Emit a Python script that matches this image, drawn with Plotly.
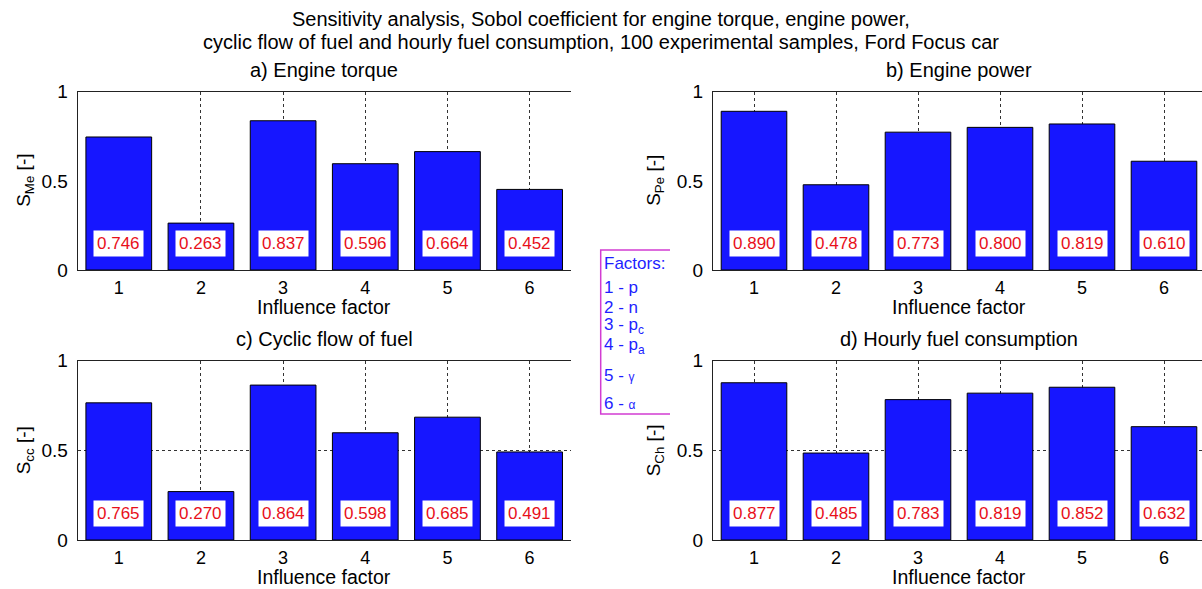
import plotly.graph_objects as go

# ---------------- data ----------------
factors = [1, 2, 3, 4, 5, 6]
torque = [0.746, 0.263, 0.837, 0.596, 0.664, 0.452]
power = [0.890, 0.478, 0.773, 0.800, 0.819, 0.610]
cyclic = [0.765, 0.270, 0.864, 0.598, 0.685, 0.491]
hourly = [0.877, 0.485, 0.783, 0.819, 0.852, 0.632]

panel_titles = ["a) Engine torque", "b) Engine power",
                "c) Cyclic flow of fuel", "d) Hourly fuel consumption"]
y_titles = ["S<sub>Me</sub> [-]", "S<sub>Pe</sub> [-]",
            "S<sub>cc</sub> [-]", "S<sub>Ch</sub> [-]"]
x_title = "Influence factor"
y_tickvals = [0, 0.5, 1]
y_ticktext = ["0", "0.5", "1"]
legend_lines = ["Factors:", "1 - p", "2 - n", "3 - p<sub>c</sub>",
                "4 - p<sub>a</sub>", "5 - <span style='font-size:12px'>γ</span>",
                "6 - <span style='font-size:12px'>α</span>"]
title_line1 = "Sensitivity analysis, Sobol coefficient for engine torque, engine power,"
title_line2 = "cyclic flow of fuel and hourly fuel consumption, 100 experimental samples, Ford Focus car"

# ---------------- layout helpers ----------------
W, H = 1202, 589
FONT = "Arial, 'Liberation Sans', sans-serif"
BAR_COLOR = "rgb(22,22,255)"
GRID = "#333333"


def px(p):
    return p / W


def py(p):
    return 1 - p / H


left_dom = [px(77.7), px(570.7)]
right_dom = [px(713), 1.0]
top_dom = [py(270), py(91.7)]
bot_dom = [py(540), py(360.7)]

panels = [
    dict(vals=torque, xd=left_dom, yd=top_dom, left=True, hgrid=False),
    dict(vals=power, xd=right_dom, yd=top_dom, left=False, hgrid=False),
    dict(vals=cyclic, xd=left_dom, yd=bot_dom, left=True, hgrid=True),
    dict(vals=hourly, xd=right_dom, yd=bot_dom, left=False, hgrid=True),
]

fig = go.Figure()
annotations = []
layout = {}

for i, p in enumerate(panels):
    n = "" if i == 0 else str(i + 1)
    xa, ya = "x" + n, "y" + n
    fig.add_trace(go.Bar(
        x=factors, y=p["vals"], xaxis=xa, yaxis=ya, width=0.8,
        marker=dict(color=BAR_COLOR, line=dict(color="black", width=1)),
        showlegend=False, hoverinfo="x+y"))

    xr = [0.5, 6.5] if p["left"] else [0.5, 6.5 - 3 / 82.0]
    xaxis = dict(
        domain=p["xd"], anchor=ya, range=xr, tickvals=factors,
        ticktext=[str(f) for f in factors], ticks="", showline=True,
        linecolor="#222222", linewidth=1, mirror=True, zeroline=False,
        tickfont=dict(family=FONT, size=18, color="black"),
        ticklabelstandoff=1, fixedrange=True, automargin=False,
    )
    if p["left"]:
        xaxis.update(showgrid=False,
                     minor=dict(tickvals=factors[1:], showgrid=True, gridcolor=GRID,
                                griddash="dot", gridwidth=1, ticks=""))
    else:
        xaxis.update(showgrid=True, gridcolor=GRID, griddash="dot", gridwidth=1)
    yaxis = dict(
        domain=p["yd"], anchor=xa, range=[0, 1], tickvals=y_tickvals,
        ticktext=y_ticktext, ticks="", showline=True, linecolor="#222222",
        linewidth=1, mirror=False, zeroline=False, showgrid=p["hgrid"],
        gridcolor=GRID, griddash="dot", gridwidth=1,
        tickfont=dict(family=FONT, size=19, color="black"),
        ticklabelstandoff=5, fixedrange=True, automargin=False,
    )
    layout["xaxis" + n] = xaxis
    layout["yaxis" + n] = yaxis

    # value labels
    for f, v in zip(factors, p["vals"]):
        annotations.append(dict(
            x=f, y=0.15, xref=xa, yref=ya, text=f"{v:.3f}", showarrow=False,
            font=dict(family=FONT, size=17, color="#e8101a"), bgcolor="white",
            borderpad=3, xanchor="center", yanchor="middle"))

    # panel title
    cx = (p["xd"][0] + p["xd"][1]) / 2 if p["left"] else px(959)
    ty = py(70) if i < 2 else py(339)
    annotations.append(dict(
        x=cx, y=ty, xref="paper", yref="paper", text=panel_titles[i],
        showarrow=False, font=dict(family=FONT, size=20, color="black"),
        xanchor="center", yanchor="middle"))

    # y title
    yx = px(25) if p["left"] else px(655)
    ymid = (p["yd"][0] + p["yd"][1]) / 2
    annotations.append(dict(
        x=yx, y=ymid, xref="paper", yref="paper", text=y_titles[i],
        showarrow=False, textangle=-90,
        font=dict(family=FONT, size=19, color="black"),
        xanchor="center", yanchor="middle"))

    # x title
    xty = py(307) if i < 2 else py(577)
    annotations.append(dict(
        x=cx, y=xty, xref="paper", yref="paper", text=x_title,
        showarrow=False, font=dict(family=FONT, size=19.5, color="black"),
        xanchor="center", yanchor="middle"))

# main title
annotations.append(dict(x=0.5, y=py(19), xref="paper", yref="paper",
                        text=title_line1, showarrow=False,
                        font=dict(family=FONT, size=20, color="black"),
                        xanchor="center", yanchor="middle"))
annotations.append(dict(x=0.5, y=py(42), xref="paper", yref="paper",
                        text=title_line2, showarrow=False,
                        font=dict(family=FONT, size=20, color="black"),
                        xanchor="center", yanchor="middle"))

# factors legend box
legend_y = [263, 288, 307, 326, 346, 375, 403]
for t, yy in zip(legend_lines, legend_y):
    annotations.append(dict(x=px(602), y=py(yy), xref="paper", yref="paper",
                            text=t, showarrow=False, align="left",
                            font=dict(family=FONT, size=17, color="rgb(30,30,255)"),
                            xanchor="left", yanchor="middle"))

shapes = [dict(type="path", xref="paper", yref="paper",
               path=f"M {px(670)},{py(250)} L {px(600.7)},{py(250)} "
                    f"L {px(600.7)},{py(414)} L {px(670)},{py(414)}",
               line=dict(color="rgb(210,60,210)", width=1.5))]

fig.update_layout(
    width=W, height=H, margin=dict(l=0, r=0, t=0, b=0, pad=0, autoexpand=False),
    paper_bgcolor="white", plot_bgcolor="white",
    annotations=annotations, shapes=shapes, bargap=0.2,
    font=dict(family=FONT, color="black"),
    **layout,
)

fig.write_html("out.html")
